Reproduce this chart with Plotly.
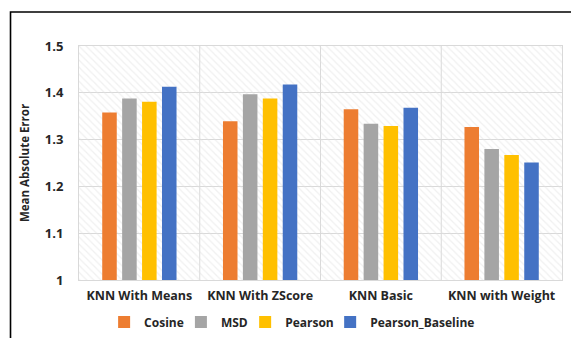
import plotly.graph_objects as go

# Methods on the x axis and the similarity measures compared for each
methods = ["KNN With Means", "KNN With ZScore", "KNN Basic", "KNN with Weight"]
cosine = [1.358, 1.339, 1.365, 1.327]
msd = [1.388, 1.397, 1.334, 1.280]
pearson = [1.381, 1.388, 1.329, 1.267]
pearson_baseline = [1.413, 1.418, 1.368, 1.251]

series = [
    ("Cosine", cosine, "#ED7D31"),
    ("MSD", msd, "#A5A5A5"),
    ("Pearson", pearson, "#FFC000"),
    ("Pearson_Baseline", pearson_baseline, "#4472C4"),
]

y_ticks = [1, 1.1, 1.2, 1.3, 1.4, 1.5]

# Left edge (in paper units) of each legend entry along the bottom row
legend_x = [0.052, 0.211, 0.344, 0.520]

fig = go.Figure()

# Light diagonal hatching filling the plot area (base x axis, hidden, 0..1)
fig.add_trace(go.Scatter(
    x=[0, 1, 1, 0, 0], y=[1, 1, 1.5, 1.5, 1],
    xaxis="x", yaxis="y",
    mode="lines", line=dict(width=0),
    fill="toself", fillcolor="rgba(0,0,0,0)",
    fillpattern=dict(shape="\\", fgcolor="#e2e2e2", bgcolor="rgba(0,0,0,0)",
                     size=5, solidity=0.25),
    hoverinfo="skip", showlegend=False,
))

font_family = "Open Sans, Liberation Sans, sans-serif"
text_color = "#262626"
legend_font = dict(size=12, color=text_color, family=font_family, weight="bold")

# Bars on the categorical axis laid over the hatching, one legend entry each
legends = {}
for i, (name, vals, color) in enumerate(series):
    key = "legend" if i == 0 else f"legend{i + 1}"
    fig.add_trace(go.Bar(x=methods, y=vals, name=name, marker_color=color,
                         marker_line_width=0, xaxis="x2", yaxis="y",
                         legend=key))
    legends[key] = dict(orientation="h", x=legend_x[i], xanchor="left",
                        y=-0.18, yanchor="middle", font=legend_font,
                        itemwidth=30, bgcolor="rgba(0,0,0,0)")

# Frame around the chart (open on the right and bottom edges)
frame = dict(type="path", xref="paper", yref="paper",
             path="M 1.2,1.145 L -0.1418,1.145 L -0.1418,-0.5",
             line=dict(color="black", width=1.6))

# Vertical separators between method groups
separators = [dict(type="line", xref="x2", yref="paper", x0=i + 0.5, x1=i + 0.5,
                   y0=0, y1=1, line=dict(color="#d9d9d9", width=1), layer="below")
              for i in range(len(methods) - 1)]

fig.update_layout(
    width=571, height=338,
    margin=dict(l=79, r=9, t=46, b=58, autoexpand=False),
    paper_bgcolor="white", plot_bgcolor="white",
    barmode="group", bargap=0.34, bargroupgap=0.27,
    font=dict(family=font_family, size=12, color=text_color),
    xaxis=dict(range=[0, 1], visible=False, fixedrange=True),
    xaxis2=dict(
        overlaying="x", type="category", showgrid=False, showline=True,
        linecolor="#d9d9d9", mirror=True, ticks="", side="bottom",
        tickfont=dict(size=12.5, color=text_color, family=font_family,
                      weight="bold"),
        ticklabelstandoff=4,
    ),
    yaxis=dict(
        range=[1, 1.5], tickvals=y_ticks, ticktext=[str(v) for v in y_ticks],
        showgrid=True, gridcolor="#d9d9d9", gridwidth=1,
        showline=True, linecolor="#d9d9d9", mirror=True, zeroline=False,
        tickfont=dict(size=13, color=text_color, family=font_family, weight="bold"),
        ticklabelstandoff=12,
        title=dict(text="Mean Absolute Error", standoff=12,
                   font=dict(size=11.5, color=text_color, family=font_family,
                             weight="bold")),
    ),
    shapes=[frame] + separators,
    **legends,
)

fig.write_html("out.html")
